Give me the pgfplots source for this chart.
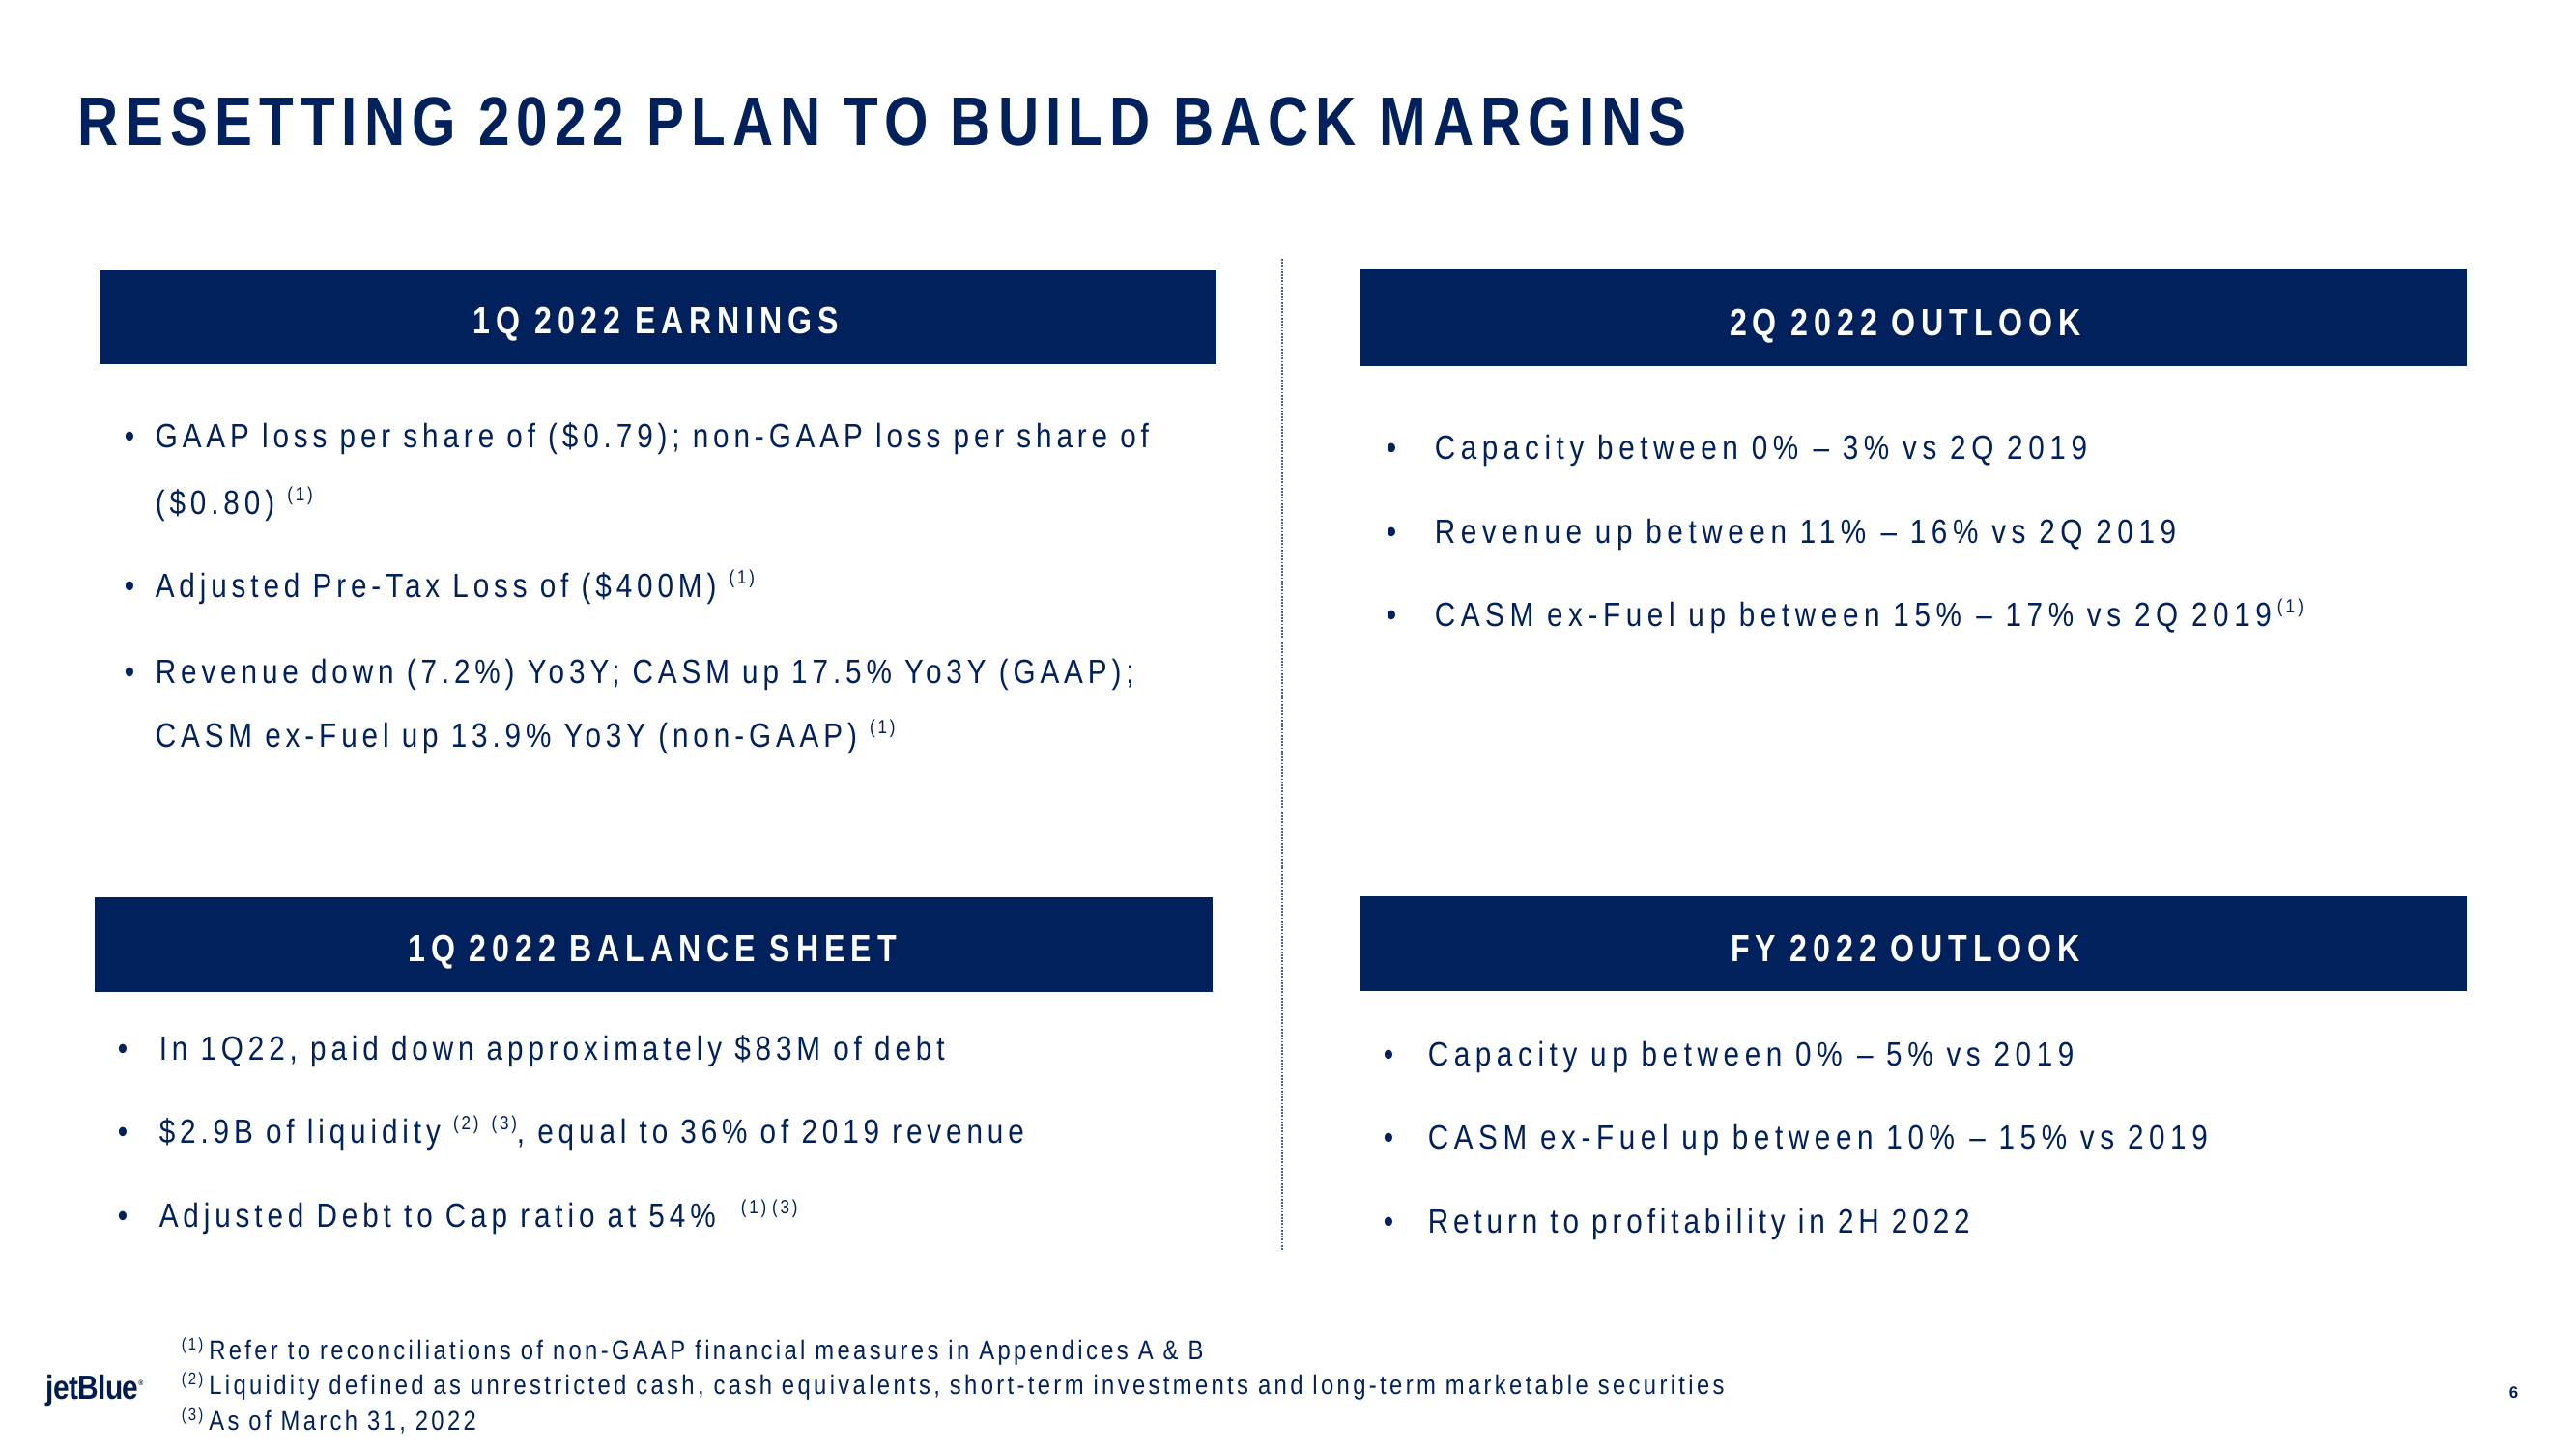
\documentclass[border=0pt]{standalone}
\usepackage{pgfplots}
\pgfplotsset{compat=1.18}
\usepackage{fontspec}
\setmainfont{Liberation Sans}
\newfontfamily\bodyf{Liberation Sans}[FakeStretch=0.85,LetterSpace=14]
\newfontfamily\bodyr{Liberation Sans}[FakeStretch=0.85,LetterSpace=16]
\newfontfamily\headf{Liberation Sans}[FakeStretch=0.82,LetterSpace=15]
\newfontfamily\titlef{Liberation Sans}[FakeStretch=0.82,LetterSpace=10]
\newfontfamily\footf{Liberation Sans}[FakeStretch=0.85,LetterSpace=12]
\newfontfamily\logof{Liberation Sans}[FakeStretch=0.86,LetterSpace=-2]
\definecolor{navy}{RGB}{0,33,91}
\newcommand\sups[1]{\raisebox{3.3pt}{\fontsize{5.0}{5.0}\selectfont #1}}
\newcommand\fsups[1]{\raisebox{2.4pt}{\fontsize{4.4}{4.4}\selectfont #1}}
\newcommand\dsh{\hspace{0.4pt}–\hspace{3.4pt}}
\begin{document}
\begin{tikzpicture}
\begin{axis}[width=666.5pt,height=375pt,scale only axis,xmin=0,xmax=2666,ymin=0,ymax=1500,
  y dir=reverse,hide axis,clip=false]
\fill[white] (axis cs:0,0) rectangle (axis cs:2666,1500);
% title
\node[anchor=base west,inner sep=0,text=navy] at (axis cs:80,150)
  {\titlef\bfseries\fontsize{17.8}{20}\selectfont RESETTING 2022 PLAN TO BUILD BACK MARGINS};
% header boxes
\fill[navy] (axis cs:103,279) rectangle (axis cs:1259,377);
\fill[navy] (axis cs:1408,278) rectangle (axis cs:2553,379);
\fill[navy] (axis cs:98,929) rectangle (axis cs:1255,1027);
\fill[navy] (axis cs:1408,928) rectangle (axis cs:2553,1026);
\tikzset{hd/.style={anchor=base,inner sep=0,text=white,font=\headf\bfseries\fontsize{9.8}{11}\selectfont}}
\node[hd] at (axis cs:679,345) {1Q 2022 EARNINGS};
\node[hd] at (axis cs:1972,347) {2Q 2022 OUTLOOK};
\node[hd] at (axis cs:675,995) {1Q 2022 BALANCE SHEET};
\node[hd] at (axis cs:1972,995) {FY 2022 OUTLOOK};
% dotted divider
\draw[navy!70,line width=0.35pt,dash pattern=on 0.45pt off 0.35pt] (axis cs:1327,268) -- (axis cs:1327,1295);
\tikzset{bd/.style={anchor=base west,inner sep=0,text=navy,font=\bodyf\fontsize{8.73}{10}\selectfont},
         br/.style={anchor=base west,inner sep=0,text=navy,font=\bodyr\fontsize{8.73}{10}\selectfont}}
% top left
\node[bd] at (axis cs:128,463) {•};
\node[bd] at (axis cs:160,463) {GAAP loss per share of (\$0.79); non-GAAP loss per share of};
\node[bd] at (axis cs:160,532) {(\$0.80) \sups{(1)}};
\node[bd] at (axis cs:128,618) {•};
\node[bd] at (axis cs:160,618) {Adjusted Pre-Tax Loss of (\$400M) \sups{(1)}};
\node[bd] at (axis cs:128,707) {•};
\node[bd] at (axis cs:160,707) {Revenue down (7.2\%) Yo3Y; CASM up 17.5\% Yo3Y (GAAP);};
\node[bd] at (axis cs:160,773) {CASM ex-Fuel up 13.9\% Yo3Y (non-GAAP) \sups{(1)}};
% top right
\node[br] at (axis cs:1434,475) {•};
\node[br] at (axis cs:1484,475) {Capacity between 0\% \dsh 3\% vs 2Q 2019};
\node[br] at (axis cs:1434,562) {•};
\node[br] at (axis cs:1484,562) {Revenue up between 11\% \dsh 16\% vs 2Q 2019};
\node[br] at (axis cs:1434,648) {•};
\node[br] at (axis cs:1484,648) {CASM ex-Fuel up between 15\% \dsh 17\% vs 2Q 2019\,\sups{(1)}};
% bottom right
\node[br] at (axis cs:1431,1103) {•};
\node[br] at (axis cs:1477,1103) {Capacity up between 0\% \dsh 5\% vs 2019};
\node[br] at (axis cs:1431,1189) {•};
\node[br] at (axis cs:1477,1189) {CASM ex-Fuel up between 10\% \dsh 15\% vs 2019};
\node[bd] at (axis cs:1431,1276) {•};
\node[bd] at (axis cs:1477,1276) {Return to profitability in 2H 2022};
% bottom left
\node[bd] at (axis cs:121,1097) {•};
\node[bd] at (axis cs:164,1097) {In 1Q22, paid down approximately \$83M of debt};
\node[bd] at (axis cs:121,1183) {•};
\node[bd] at (axis cs:164,1183) {\$2.9B of liquidity \sups{(2)} \sups{(3)}, equal to 36\% of 2019 revenue};
\node[bd] at (axis cs:121,1270) {•};
\node[bd] at (axis cs:164,1270) {Adjusted Debt to Cap ratio at 54\% \ \sups{(1)}\,\sups{(3)}};
% footnotes
\tikzset{fn/.style={anchor=base west,inner sep=0,text=navy,font=\footf\fontsize{7.0}{8}\selectfont}}
\node[fn] at (axis cs:187,1407) {\fsups{(1)}\hspace{1.5pt}Refer to reconciliations of non-GAAP financial measures in Appendices A \& B};
\node[fn] at (axis cs:187,1443) {\fsups{(2)}\hspace{1.5pt}Liquidity defined as unrestricted cash, cash equivalents, short-term investments and long-term marketable securities};
\node[fn] at (axis cs:187,1480) {\fsups{(3)}\hspace{1.5pt}As of March 31, 2022};
% logo and page number
\node[anchor=base west,inner sep=0,text=navy!85!black] at (axis cs:47,1448)
  {\logof\bfseries\fontsize{8.7}{10}\selectfont jetBlue\raisebox{3.5pt}{\fontsize{2}{2}\selectfont ®}};
\node[anchor=base west,inner sep=0,text=navy] at (axis cs:2596,1447)
  {\bfseries\fontsize{4.2}{5}\selectfont 6};
\end{axis}
\end{tikzpicture}
\end{document}
